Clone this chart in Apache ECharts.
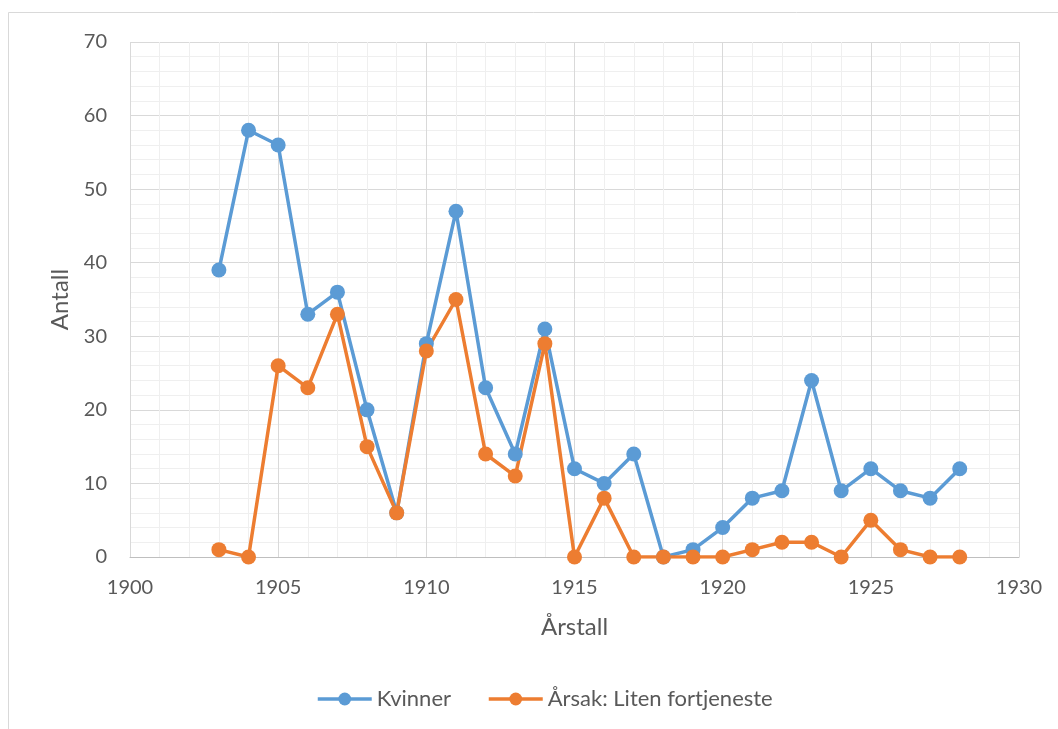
<!DOCTYPE html>
<html>
<head>
<meta charset="utf-8">
<script src="https://cdn.jsdelivr.net/npm/echarts@6/dist/echarts.min.js"></script>
<style>
html,body{margin:0;padding:0;background:#fff;}
#c{width:1058px;height:729px;}
</style>
</head>
<body>
<div id="c"></div>
<script>
const years = [1903,1904,1905,1906,1907,1908,1909,1910,1911,1912,1913,1914,1915,1916,1917,1918,1919,1920,1921,1922,1923,1924,1925,1926,1927,1928];
const kvinner = [39,58,56,33,36,20,6,29,47,23,14,31,12,10,14,0,1,4,8,9,24,9,12,9,8,12];
const litenFortjeneste = [1,0,26,23,33,15,6,28,35,14,11,29,0,8,0,0,0,0,1,2,2,0,5,1,0,0];
const seriesNames = ['Kvinner','Årsak: Liten fortjeneste'];
const xTitle = 'Årstall';
const yTitle = 'Antall';

const font = 'Lato, "Open Sans", sans-serif';
const txt = '#595959';
const chart = echarts.init(document.getElementById('c'), null, {renderer:'canvas'});
function pairs(v){ return years.map((y,i)=>[y,v[i]]); }
chart.setOption({
  animation:false,
  backgroundColor:'#fff',
  graphic:[{type:'rect',shape:{x:8.5,y:12.5,width:1100,height:800},style:{fill:'none',stroke:'#d9d9d9',lineWidth:1},silent:true,z:-1}],
  grid:{left:130,top:42,width:889,height:515,containLabel:false},
  xAxis:{
    type:'value',min:1900,max:1930,interval:5,
    name:xTitle,nameLocation:'middle',nameGap:58,
    nameTextStyle:{fontFamily:font,fontSize:24,color:txt},
    axisLine:{show:true,lineStyle:{color:'#bfbfbf',width:1}},
    axisTick:{show:false},
    axisLabel:{fontFamily:font,fontSize:20,color:txt,margin:21,formatter:v=>String(v)},
    splitLine:{show:true,lineStyle:{color:'#d9d9d9',width:1}},
    minorTick:{show:false,splitNumber:5},
    minorSplitLine:{show:true,lineStyle:{color:'#efefef',width:1}}
  },
  yAxis:{
    type:'value',min:0,max:70,interval:10,
    name:yTitle,nameLocation:'middle',nameGap:58,
    nameTextStyle:{fontFamily:font,fontSize:24,color:txt},
    axisLine:{show:false},
    axisTick:{show:false},
    axisLabel:{fontFamily:font,fontSize:20,color:txt,margin:23},
    splitLine:{show:true,lineStyle:{color:'#d9d9d9',width:1}},
    minorTick:{show:false,splitNumber:5},
    minorSplitLine:{show:true,lineStyle:{color:'#efefef',width:1}}
  },
  legend:{
    bottom:14,left:311,itemWidth:54,itemHeight:16,itemGap:36,
    lineStyle:{width:3.5},
    textStyle:{fontFamily:font,fontSize:22,color:txt},
    data:seriesNames
  },
  series:[
    {name:seriesNames[0],type:'line',data:pairs(kvinner),color:'#5B9BD5',
     symbol:'circle',symbolSize:15,lineStyle:{width:3.5},itemStyle:{color:'#5B9BD5'}},
    {name:seriesNames[1],type:'line',data:pairs(litenFortjeneste),color:'#ED7D31',
     symbol:'circle',symbolSize:15,lineStyle:{width:3.5},itemStyle:{color:'#ED7D31'}}
  ]
});
</script>
</body>
</html>
